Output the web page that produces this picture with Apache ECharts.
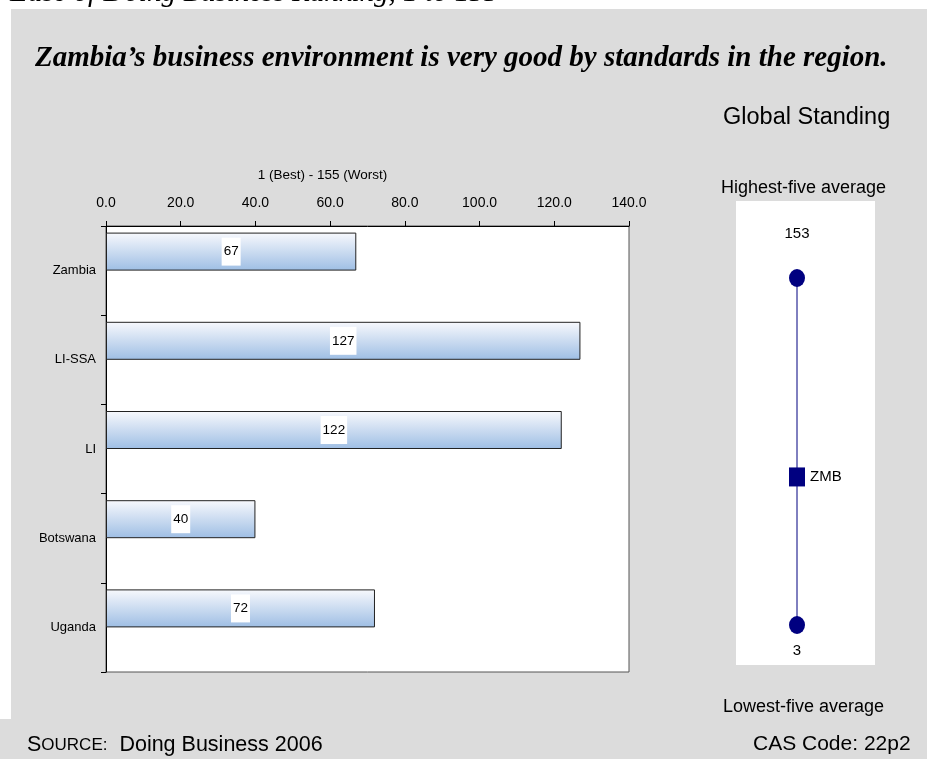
<!DOCTYPE html>
<html>
<head>
<meta charset="utf-8">
<script src="https://cdn.jsdelivr.net/npm/echarts@6/dist/echarts.min.js"></script>
<style>
  html, body { margin: 0; padding: 0; background: #ffffff; }
  #chart { width: 927px; height: 759px; }
</style>
</head>
<body>
<div id="chart"></div>
<script>
// Ease of Doing Business ranking (1 = best, 155 = worst)
const categories = ['Zambia', 'LI-SSA', 'LI', 'Botswana', 'Uganda'];
const rankings = [67, 127, 122, 40, 72];
const axisMin = 0;
const axisMax = 140;
const axisStep = 20;

// Global standing scale: lowest-five and highest-five averages, Zambia's rank
const standingCode = 'ZMB';
const standingLow = 3;
const standingHigh = 153;
const standingCountry = 67;

const NARROW = '"Liberation Sans Narrow", "Arial Narrow", "Liberation Sans", Arial, sans-serif';
const SANS = '"Liberation Sans", Arial, sans-serif';
const SERIF = '"Liberation Serif", "Times New Roman", serif';
const NAVY = '#000080';

const chart = echarts.init(document.getElementById('chart'), null, { renderer: 'canvas' });

const barFill = new echarts.graphic.LinearGradient(0, 0, 0, 1, [
  { offset: 0, color: '#f8f9fd' },
  { offset: 1, color: '#9ebee4' }
]);

const option = {
  backgroundColor: '#ffffff',
  animation: false,
  graphic: [
    // grey page panel
    { type: 'rect', z: -10, shape: { x: 11, y: 9, width: 916, height: 750 }, style: { fill: '#dcdcdc' } },
    { type: 'rect', z: -10, shape: { x: 0, y: 719, width: 12, height: 40 }, style: { fill: '#dcdcdc' } },
    // white panel behind the standing scale
    { type: 'rect', z: -5, shape: { x: 736, y: 201, width: 139, height: 464 }, style: { fill: '#ffffff' } },
    {
      type: 'text', left: 10, top: -21,
      style: { text: 'Ease of Doing Business Ranking, 1 to 155', font: 'italic 29px ' + SERIF, fill: '#000' }
    },
    {
      type: 'text', left: 35, top: 44,
      style: { text: 'Zambia\u2019s business environment is very good by standards in the region.', font: 'italic bold 29px ' + SERIF, fill: '#000' }
    },
    {
      type: 'text', left: 723, top: 106,
      style: { text: 'Global Standing', font: '23.5px ' + SANS, fill: '#000' }
    },
    {
      type: 'text', left: 721, top: 179,
      style: { text: 'Highest-five average', font: '18px ' + SANS, fill: '#000' }
    },
    {
      type: 'text', left: 723, top: 698,
      style: { text: 'Lowest-five average', font: '18px ' + SANS, fill: '#000' }
    },
    {
      type: 'text', left: 753, top: 734,
      style: { text: 'CAS Code: 22p2', font: '21px ' + SANS, fill: '#000' }
    },
    {
      type: 'text', left: 27, top: 734,
      style: {
        text: '{a|S}{b|OURCE:}{a|  Doing Business 2006}',
        rich: {
          a: { fontFamily: SANS, fontSize: 21.5, color: '#000' },
          b: { fontFamily: SANS, fontSize: 17, color: '#000' }
        }
      }
    }
  ],
  grid: [
    {
      left: 106, top: 226, width: 523, height: 446,
      show: true, backgroundColor: '#ffffff', borderColor: '#555', borderWidth: 1
    },
    { left: 717, top: 278, width: 160, height: 347 }
  ],
  xAxis: [
    {
      gridIndex: 0, type: 'value', position: 'top',
      min: axisMin, max: axisMax, interval: axisStep,
      name: '1 (Best) - 155 (Worst)', nameLocation: 'middle', nameGap: 44,
      nameTextStyle: { fontFamily: NARROW, fontSize: 13.5, color: '#000', padding: [0, 90, 0, 0] },
      axisLine: { show: true, lineStyle: { color: '#000', width: 1 } },
      axisTick: { show: true, inside: false, length: 5, lineStyle: { color: '#000' } },
      axisLabel: {
        margin: 16, fontFamily: NARROW, fontSize: 14, color: '#000',
        formatter: v => v.toFixed(1)
      },
      splitLine: { show: false }
    },
    {
      gridIndex: 1, type: 'category', data: [standingCode], show: false
    }
  ],
  yAxis: [
    {
      gridIndex: 0, type: 'category', data: categories, inverse: true,
      axisLine: { show: true, lineStyle: { color: '#000', width: 1 } },
      axisTick: { show: true, length: 5, lineStyle: { color: '#000' } },
      axisLabel: { margin: 10, fontFamily: NARROW, fontSize: 13, color: '#000', padding: [7, 0, 0, 0] },
      splitLine: { show: false }
    },
    {
      gridIndex: 1, type: 'value', min: standingLow, max: standingHigh, show: false
    }
  ],
  series: [
    {
      type: 'bar', xAxisIndex: 0, yAxisIndex: 0,
      data: rankings, barWidth: 38, barGap: '0%',
      itemStyle: { color: barFill, borderColor: '#222', borderWidth: 1 },
      label: {
        show: true, position: 'inside', color: '#000',
        fontFamily: NARROW, fontSize: 13.5,
        backgroundColor: '#ffffff', padding: [7, 2, 7, 2],
        formatter: p => String(p.value)
      }
    },
    {
      type: 'bar', xAxisIndex: 0, yAxisIndex: 0,
      data: categories.map(() => null), barWidth: 38, barGap: '0%'
    },
    {
      type: 'line', xAxisIndex: 1, yAxisIndex: 1,
      data: [[standingCode, standingLow], [standingCode, standingHigh]],
      symbol: 'none', lineStyle: { color: NAVY, width: 1, opacity: 1 }, z: 1
    },
    {
      type: 'scatter', xAxisIndex: 1, yAxisIndex: 1, z: 3,
      symbol: 'circle', symbolSize: [16, 18],
      itemStyle: { color: NAVY, opacity: 1 },
      data: [
        { value: [standingCode, standingHigh], label: { position: 'top', distance: 28 } },
        { value: [standingCode, standingLow], label: { position: 'bottom', distance: 9 } }
      ],
      label: {
        show: true, color: '#000', fontFamily: SANS, fontSize: 15,
        formatter: p => String(p.value[1])
      }
    },
    {
      type: 'scatter', xAxisIndex: 1, yAxisIndex: 1, z: 3,
      symbol: 'rect', symbolSize: [16, 19],
      itemStyle: { color: NAVY, opacity: 1 },
      data: [[standingCode, standingCountry]],
      label: {
        show: true, position: 'right', distance: 5, color: '#000',
        fontFamily: SANS, fontSize: 15, formatter: () => standingCode
      }
    }
  ]
};

chart.setOption(option);
</script>
</body>
</html>
